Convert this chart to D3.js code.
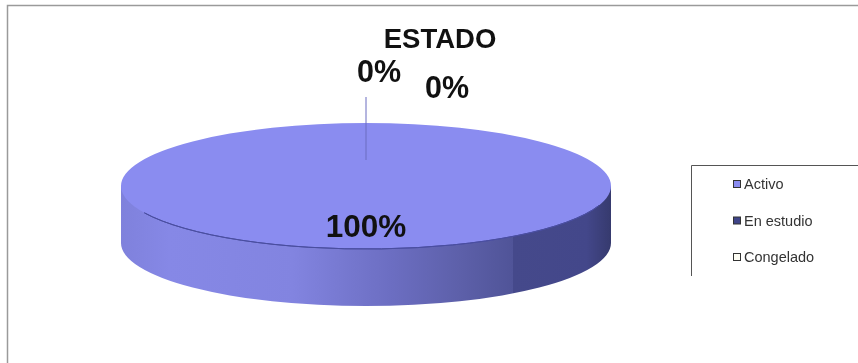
<!DOCTYPE html>
<html>
<head>
<meta charset="utf-8">
<script src="https://cdn.jsdelivr.net/npm/d3@7"></script>
<style>
html,body{margin:0;padding:0;background:#fff}
svg{display:block;font-family:"Liberation Sans",Arial,sans-serif;filter:blur(0.45px)}
</style>
</head>
<body>
<svg id="c" width="858" height="363"></svg>
<script>
const categories = ["Activo", "En estudio", "Congelado"];
const values = [100, 0, 0];
const labels = ["100%", "0%", "0%"];
const colors = ["#8a8cf0", "#3f4488", "#fdfdf4"];
const titleText = "ESTADO";

const svg = d3.select("#c");
const W = 858, H = 363;
const cx = 366, cy = 186, rx = 245, ry = 63, depth = 57;

const defs = svg.append("defs");
const grad = defs.append("linearGradient").attr("id", "side")
  .attr("x1", 0).attr("x2", 1).attr("y1", 0).attr("y2", 0);
[[0, "#7f81dc"], [0.1, "#8688e6"], [0.35, "#8284e0"], [0.55, "#6c6ec2"],
 [0.7, "#5c5fa8"], [0.8, "#505498"], [0.801, "#45498b"], [0.95, "#43478a"], [1, "#363a6e"]]
  .forEach(d => grad.append("stop").attr("offset", d[0]).attr("stop-color", d[1]));

// Frame
svg.append("path").attr("d", `M7.5,${H}V5.5H${W}`)
  .attr("fill", "none").attr("stroke", "#9a9a9a").attr("stroke-width", 1.5);

const pie = d3.pie().sort(null).startAngle(Math.PI * 0.5).endAngle(Math.PI * 2.5);
const arcs = pie(values);
const arc = d3.arc().innerRadius(0).outerRadius(rx);
const yScale = ry / rx;

// Wall: bottom face, connecting band
svg.append("path").attr("d", arc(arcs[0]))
  .attr("transform", `translate(${cx},${cy + depth}) scale(1,${yScale})`)
  .attr("fill", "url(#side)");
svg.append("rect").attr("x", cx - rx).attr("y", cy).attr("width", 2 * rx).attr("height", depth)
  .attr("fill", "url(#side)");

// Top faces
svg.append("g").attr("transform", `translate(${cx},${cy}) scale(1,${yScale})`)
  .selectAll("path").data(arcs).join("path")
  .attr("d", arc)
  .attr("fill", (d, i) => colors[i]);

// Front rim
const rim = d3.arc().innerRadius(rx).outerRadius(rx).startAngle(Math.PI * 0.6).endAngle(Math.PI * 1.36);
svg.append("path").attr("d", rim())
  .attr("transform", `translate(${cx},${cy}) scale(1,${yScale})`)
  .attr("fill", "none").attr("stroke", "#4a4ea0").attr("stroke-width", 1).attr("vector-effect", "non-scaling-stroke");

// Leader line
svg.append("line").attr("x1", 366).attr("x2", 366).attr("y1", 97).attr("y2", 160)
  .attr("stroke", "#6a6cc0").attr("stroke-width", 1);

// Title + labels
svg.append("text").attr("x", 440).attr("y", 48).attr("text-anchor", "middle")
  .attr("font-size", 27.5).attr("font-weight", 700).attr("fill", "#111").text(titleText);
const labelPos = [[366, 237], [379, 82], [447, 98]];
svg.append("g").selectAll("text").data(labels).join("text")
  .attr("x", (d, i) => labelPos[i][0]).attr("y", (d, i) => labelPos[i][1])
  .attr("text-anchor", "middle").attr("font-size", (d, i) => i === 0 ? 31.5 : 30.5).attr("font-weight", 700).attr("fill", "#111")
  .text(d => d);

// Legend
svg.append("path").attr("d", `M691.5,276V165.5H${W}`)
  .attr("fill", "none").attr("stroke", "#555").attr("stroke-width", 1);
const yPos = d3.scalePoint().domain(categories).range([184, 257]);
const leg = svg.append("g").selectAll("g").data(categories).join("g")
  .attr("transform", d => `translate(0,${yPos(d)})`);
leg.append("rect").attr("x", 733.5).attr("y", -3.5).attr("width", 7).attr("height", 7)
  .attr("fill", (d, i) => colors[i]).attr("stroke", "#333").attr("stroke-width", 1);
leg.append("text").attr("x", 744).attr("y", 5).attr("font-size", 14.5).attr("fill", "#333").text(d => d);
</script>
</body>
</html>
